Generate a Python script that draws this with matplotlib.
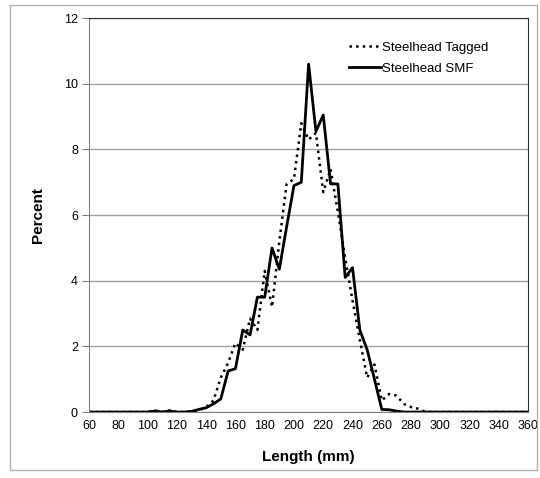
import matplotlib
matplotlib.use("Agg")
import matplotlib.pyplot as plt
from matplotlib.patches import Rectangle

plt.rcParams['font.family'] = ['Liberation Sans', 'DejaVu Sans']

# length classes (mm), 5 mm bins
lengths = [60, 65, 70, 75, 80, 85, 90, 95, 100, 105, 110, 115, 120, 125, 130,
           135, 140, 145, 150, 155, 160, 165, 170, 175, 180, 185, 190, 195,
           200, 205, 210, 215, 220, 225, 230, 235, 240, 245, 250, 255, 260,
           265, 270, 275, 280, 285, 290, 295, 300, 305, 310, 315, 320, 325,
           330, 335, 340, 345, 350, 355, 360]

# percent per bin
tagged = [0, 0, 0, 0, 0, 0, 0, 0, 0, 0.05, 0, 0.05, 0, 0, 0.02,
          0.05, 0.15, 0.35, 1.05, 1.5, 2.1, 1.9, 2.85, 2.5, 4.3, 3.2, 5.2, 6.95,
          7.1, 8.8, 8.3, 8.5, 6.7, 7.4, 6.1, 4.7, 3.4, 2.2, 1.05, 1.45, 0.35,
          0.55, 0.5, 0.25, 0.15, 0.1, 0, 0, 0, 0, 0, 0, 0, 0,
          0, 0, 0, 0, 0, 0, 0]
smf = [0, 0, 0, 0, 0, 0, 0, 0, 0, 0.03, 0, 0.03, 0, 0, 0.02,
       0.08, 0.13, 0.25, 0.4, 1.25, 1.32, 2.5, 2.35, 3.5, 3.5, 5.0, 4.35, 5.65,
       6.9, 7.0, 10.6, 8.55, 9.05, 6.95, 6.95, 4.1, 4.4, 2.5, 1.9, 1.0, 0.08,
       0.07, 0.03, 0, 0, 0, 0, 0, 0, 0, 0, 0, 0, 0,
       0, 0, 0, 0, 0, 0, 0]

fig = plt.figure(figsize=(5.4, 4.78), dpi=100)
ax = fig.add_axes([0.165, 0.138, 0.813, 0.824])

# outer chart border
fig.patches.append(Rectangle((0.018, 0.017), 0.977, 0.972, transform=fig.transFigure,
                             fill=False, edgecolor='#b0b0b0', linewidth=1))

ax.plot(lengths, tagged, color='black', linestyle=':', linewidth=1.8, label='Steelhead Tagged')
ax.plot(lengths, smf, color='black', linestyle='-', linewidth=2, label='Steelhead SMF')

ax.set_xlim(60, 360)
ax.set_ylim(0, 12)
ax.set_xticks(range(60, 361, 20))
ax.set_yticks(range(0, 13, 2))
ax.yaxis.grid(True, color='#a0a0a0', linewidth=1)
ax.set_axisbelow(True)

ax.tick_params(axis='y', length=5, color='#808080', labelsize=9, pad=3)
ax.tick_params(axis='x', length=0, labelsize=9, pad=6)
for s in ['left', 'bottom']:
    ax.spines[s].set_color('#808080')
for s in ['top', 'right']:
    ax.spines[s].set_color('#303030')

ax.set_xlabel('Length (mm)', fontsize=11, fontweight='bold', labelpad=13)
ax.set_ylabel('Percent', fontsize=11, fontweight='bold', labelpad=14)

leg = ax.legend(loc='upper left', bbox_to_anchor=(0.565, 0.97), frameon=False,
                fontsize=9.5, handlelength=2.4, handletextpad=0.1, labelspacing=0.65)

fig.savefig('out.png', dpi=100)
